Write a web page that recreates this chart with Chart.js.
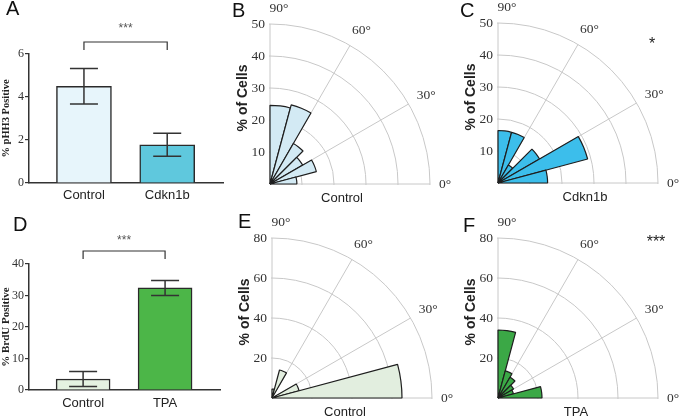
<!DOCTYPE html>
<html>
<head>
<meta charset="utf-8">
<script src="https://cdn.jsdelivr.net/npm/chart.js@4.4.0/dist/chart.umd.min.js"></script>
<style>
html, body { margin: 0; padding: 0; background: #fff; }
#fig { position: relative; width: 680px; height: 418px; overflow: hidden; }
#fig canvas { position: absolute; }
.lt { position: absolute; font: 20px 'Liberation Sans', Arial, sans-serif; color: #111; line-height: 1; }
</style>
</head>
<body>
<div id="fig">
  <canvas id="barA" width="232" height="205" style="left:0;top:0"></canvas>
  <canvas id="barD" width="232" height="213" style="left:0;top:205px"></canvas>
  <canvas id="polB" width="380" height="380" style="left:80px;top:-6px"></canvas>
  <canvas id="polC" width="380" height="380" style="left:308px;top:-7px"></canvas>
  <canvas id="polE" width="380" height="380" style="left:82px;top:208px"></canvas>
  <canvas id="polF" width="380" height="380" style="left:308px;top:208px"></canvas>
  <div class="lt" style="left:6px;top:-2px">A</div>
  <div class="lt" style="left:232px;top:0px">B</div>
  <div class="lt" style="left:460px;top:0px">C</div>
  <div class="lt" style="left:13px;top:214px">D</div>
  <div class="lt" style="left:238px;top:211px">E</div>
  <div class="lt" style="left:463px;top:215px">F</div>
</div>
<script>
// bar panels (mean, sem)
const catsA = ['Control', 'Cdkn1b'];
const pHH3Mean = [4.5, 1.78];
const pHH3Err = [0.83, 0.53];
const catsD = ['Control', 'TPA'];
const brduMean = [3.5, 32.4];
const brduErr = [2.35, 2.4];

// rose panels, 15 degree bins from 90 down to 0
const binLabels = ['75-90°', '60-75°', '45-60°', '30-45°', '15-30°', '0-15°'];
const ctrlB = [24.6, 25.6, 14.6, 11.8, 15.0, 8.4];
const cdknC = [16.4, 16.4, 6.5, 15.0, 29.0, 15.5];
const ctrlE = [4.5, 14.5, 0, 0, 14, 65];
const tpaF = [34, 14, 12, 9, 8, 22];
const angleTicks = [90, 60, 30, 0];

Chart.defaults.font.family = "'Liberation Sans', Arial, sans-serif";
Chart.defaults.animation = false;

const barExtras = {
  id: 'barExtras',
  afterDatasetsDraw(chart, args, opts) {
    const ctx = chart.ctx, x = chart.scales.x, y = chart.scales.y, top = chart.chartArea.top;
    ctx.save();
    ctx.strokeStyle = '#333';
    ctx.lineWidth = 1.5;
    opts.means.forEach((m, i) => {
      const px = x.getPixelForValue(i);
      const hi = y.getPixelForValue(m + opts.errs[i]);
      const lo = y.getPixelForValue(m - opts.errs[i]);
      ctx.beginPath();
      ctx.moveTo(px, hi); ctx.lineTo(px, lo);
      ctx.moveTo(px - 14, hi); ctx.lineTo(px + 14, hi);
      ctx.moveTo(px - 14, lo); ctx.lineTo(px + 14, lo);
      ctx.stroke();
    });
    const x0 = x.getPixelForValue(0), x1 = x.getPixelForValue(1);
    const by = top - opts.bracket;
    ctx.lineWidth = 1.2;
    ctx.beginPath();
    ctx.moveTo(x0, by + 8); ctx.lineTo(x0, by); ctx.lineTo(x1, by); ctx.lineTo(x1, by + 8);
    ctx.stroke();
    ctx.fillStyle = '#555';
    ctx.font = "12px 'Liberation Sans'";
    ctx.textAlign = 'center';
    ctx.textBaseline = 'alphabetic';
    ctx.fillText('***', (x0 + x1) / 2, top - opts.stars);
    ctx.restore();
  }
};

function makeBar(id, cats, means, errs, colors, yMax, yStep, yTitle, o) {
  new Chart(document.getElementById(id), {
    type: 'bar',
    data: {
      datasets: [{
        data: means.map((v, i) => ({ x: i, y: v })),
        backgroundColor: colors,
        borderColor: '#2a2a2a',
        borderWidth: 1.5,
        barThickness: o.barW
      }]
    },
    options: {
      responsive: false,
      devicePixelRatio: 1,
      layout: { padding: { top: o.padTop, right: o.padRight, left: 0, bottom: 0 } },
      plugins: {
        legend: { display: false },
        tooltip: { enabled: false },
        barExtras: { means: means, errs: errs, bracket: o.bracket, stars: o.stars }
      },
      scales: {
        x: {
          type: 'linear',
          offset: false,
          min: -0.66, max: 1.67,
          afterBuildTicks: s => { s.ticks = [{ value: 0 }, { value: 1 }]; },
          afterFit: s => { s.height = o.xH; },
          grid: { display: false, offset: false, drawTicks: false, tickLength: 0 },
          border: { color: '#333', width: 1.5 },
          ticks: {
            autoSkip: false, maxRotation: 0, padding: o.xPad,
            color: '#222', font: { size: 13 },
            callback: v => cats[v]
          }
        },
        y: {
          min: 0, max: yMax,
          afterFit: s => { s.width = 29; },
          grid: { drawOnChartArea: false, drawTicks: true, tickLength: 4, color: '#333', lineWidth: 1.2 },
          border: { color: '#333', width: 1.5 },
          ticks: { stepSize: yStep, padding: 1, color: '#333', font: { family: "'Liberation Serif', serif", size: 12 } },
          title: {
            display: true, text: yTitle, padding: 0, color: '#222',
            font: { family: "'Liberation Serif', serif", size: o.titleSize, weight: 'bold' }
          }
        }
      }
    },
    plugins: [barExtras]
  });
}

makeBar('barA', catsA, pHH3Mean, pHH3Err, ['#e7f5fb', '#5fc8dd'], 6, 2, '% pHH3 Positive',
  { barW: 55, padTop: 54, padRight: 9, xH: 22, xPad: 5, bracket: 12, stars: 22, titleSize: 10.5 });
makeBar('barD', catsD, brduMean, brduErr, ['#e4f2e1', '#4cb648'], 40, 10, '% BrdU Positive',
  { barW: 54, padTop: 59, padRight: 12, xH: 28, xPad: 6, bracket: 13, stars: 20, titleSize: 11 });

const quadrant = {
  id: 'quadrant',
  beforeDraw(chart) {
    const s = chart.scales.r, R = s.drawingArea, ctx = chart.ctx;
    ctx.save();
    ctx.beginPath();
    ctx.rect(s.xCenter - 1, s.yCenter - R - 1, R + 2, R + 2);
    ctx.clip();
  },
  beforeDatasetsDraw(chart) {
    const s = chart.scales.r, R = s.drawingArea, ctx = chart.ctx;
    ctx.save();
    ctx.strokeStyle = '#c8c8c8';
    ctx.lineWidth = 1;
    angleTicks.forEach(a => {
      const t = a * Math.PI / 180;
      ctx.beginPath();
      ctx.moveTo(s.xCenter, s.yCenter);
      ctx.lineTo(s.xCenter + R * Math.cos(t), s.yCenter - R * Math.sin(t));
      ctx.stroke();
    });
    ctx.restore();
  },
  afterDraw(chart, args, opts) {
    const s = chart.scales.r, R = s.drawingArea, ctx = chart.ctx;
    const cx = s.xCenter, cy = s.yCenter;
    ctx.restore();
    ctx.save();
    ctx.fillStyle = '#333';
    ctx.font = "13.5px 'Liberation Serif', serif";
    ctx.textAlign = 'right';
    ctx.textBaseline = 'middle';
    s.ticks.forEach(t => {
      if (t.value > 0) ctx.fillText(String(t.value), cx - 5, cy - s.getDistanceFromCenterForValue(t.value));
    });
    ctx.textAlign = 'center';
    angleTicks.forEach(a => {
      const t = a * Math.PI / 180;
      if (a === 90) {
        ctx.fillText(a + '°', cx + 9, cy - R - 16);
      } else {
        const r = a === 0 ? R + 15 : R + 17;
        ctx.fillText(a + '°', cx + r * Math.cos(t) + (a === 0 ? 0 : 3), cy - r * Math.sin(t));
      }
    });
    ctx.fillStyle = '#222';
    ctx.font = "13px 'Liberation Sans', sans-serif";
    ctx.fillText(opts.xlabel, cx + opts.xoff, cy + 14);
    ctx.save();
    ctx.translate(cx - 27, cy - 86);
    ctx.rotate(-Math.PI / 2);
    ctx.font = "bold 14px 'Liberation Sans', sans-serif";
    ctx.fillText('% of Cells', 0, 0);
    ctx.restore();
    if (opts.sig) {
      ctx.font = "16px 'Liberation Sans', sans-serif";
      ctx.textBaseline = 'alphabetic';
      ctx.fillStyle = '#222';
      ctx.fillText(opts.sig, cx + opts.sigPos[0], cy + opts.sigPos[1] + 9);
    }
    ctx.restore();
  }
};

function makePolar(id, values, fill, rMax, step, xlabel, xoff, sig, sigPos) {
  new Chart(document.getElementById(id), {
    type: 'polarArea',
    data: {
      labels: binLabels,
      datasets: [{
        data: values,
        angle: 15,
        backgroundColor: fill,
        borderColor: '#1e1e1e',
        borderWidth: c => (c.raw > 0 ? 1.2 : 0)
      }]
    },
    options: {
      responsive: false,
      devicePixelRatio: 1,
      layout: { padding: 30 },
      plugins: {
        legend: { display: false },
        tooltip: { enabled: false },
        quadrant: { xlabel: xlabel, xoff: xoff, sig: sig, sigPos: sigPos }
      },
      scales: {
        r: {
          min: 0, max: rMax,
          startAngle: 0,
          ticks: { display: false, stepSize: step },
          grid: { color: '#c8c8c8', lineWidth: 1 },
          angleLines: { display: false },
          pointLabels: { display: false }
        }
      }
    },
    plugins: [quadrant]
  });
}

makePolar('polB', ctrlB, '#d3eaf4', 50, 10, 'Control', 72, '', null);
makePolar('polC', cdknC, '#3cbeeb', 50, 10, 'Cdkn1b', 87, '*', [154, -143]);
makePolar('polE', ctrlE, '#e2eedf', 80, 20, 'Control', 73, '', null);
makePolar('polF', tpaF, '#3ba846', 80, 20, 'TPA', 78, '***', [158, -160]);
</script>
</body>
</html>
